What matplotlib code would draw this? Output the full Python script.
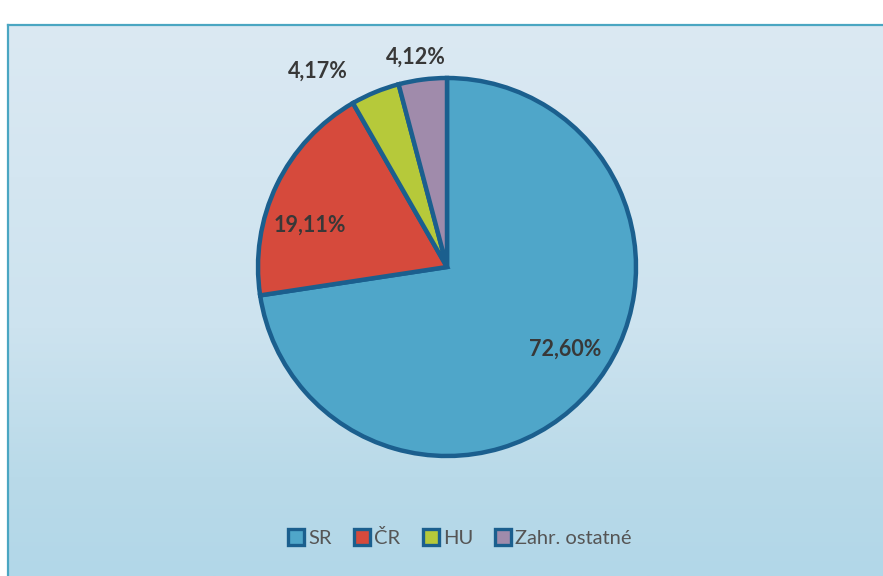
import numpy as np
import matplotlib.pyplot as plt
from matplotlib.colors import LinearSegmentedColormap
from matplotlib.patches import Rectangle

# Data
categories = ["SR", "ČR", "HU", "Zahr. ostatné"]
shares = [72.60, 19.11, 4.17, 4.12]
label_texts = ["72,60%", "19,11%", "4,17%", "4,12%"]

colors = ["#4fa6c9", "#d64a3c", "#b6c93a", "#a08bab"]
edge = "#1b5f8e"
text_col = "#383838"

W, H = 883, 576
fig = plt.figure(figsize=(W / 100, H / 100), dpi=100)
fig.patch.set_facecolor("white")

# background panel with a soft vertical gradient
bg = fig.add_axes([8 / W, 0, 1 - 8 / W, (H - 25) / H])
grad = LinearSegmentedColormap.from_list(
    "bg", [(0, "#dbe9f3"), (0.55, "#cde3ef"), (0.82, "#b9dae9"), (1, "#b2d7e8")])
bg.imshow(np.linspace(0, 1, 256).reshape(-1, 1), aspect="auto", cmap=grad,
          extent=[0, 1, 0, 1], origin="upper")
bg.set_xlim(0, 1)
bg.set_ylim(0, 1)
bg.set_xticks([])
bg.set_yticks([])
for side in ["right", "bottom"]:
    bg.spines[side].set_visible(False)
for side in ["left", "top"]:
    bg.spines[side].set_color("#4aa6c2")
    bg.spines[side].set_linewidth(1.6)

# pie
cx, cy, r = 447, 267, 189
ax = fig.add_axes([(cx - r) / W, (H - cy - r) / H, 2 * r / W, 2 * r / H])
wedges, _ = ax.pie(shares, colors=colors, startangle=90, counterclock=False,
                   radius=1.0, wedgeprops=dict(edgecolor=edge, linewidth=3.2))
ax.set_xlim(-1, 1)
ax.set_ylim(-1, 1)
ax.set_aspect("auto")
ax.axis("off")

# label placement: distance from centre and angle nudge (deg) per wedge
dists = [0.76, 0.76, 1.24, 1.12]
nudges = [6, 9, 11, 1]
for w, txt, d, n in zip(wedges, label_texts, dists, nudges):
    ang = np.deg2rad((w.theta1 + w.theta2) / 2 + n)
    ax.text(d * np.cos(ang), d * np.sin(ang), txt, ha="center", va="center",
            fontsize=15.5, fontweight="bold", color=text_col, family="Lato",
            clip_on=False)

# legend
handles = [Rectangle((0, 0), 1, 1, facecolor=c, edgecolor=edge, linewidth=2.4)
           for c in colors]
leg = fig.legend(handles, categories, loc="center", bbox_to_anchor=(460 / W, 1 - 538 / H),
                 ncol=4, frameon=False, handlelength=0.8, handleheight=0.8,
                 handletextpad=0.2, columnspacing=1.1,
                 prop=dict(family="Lato", size=14.5))
for t in leg.get_texts():
    t.set_color("#555555")

fig.savefig("out.png", dpi=100)
